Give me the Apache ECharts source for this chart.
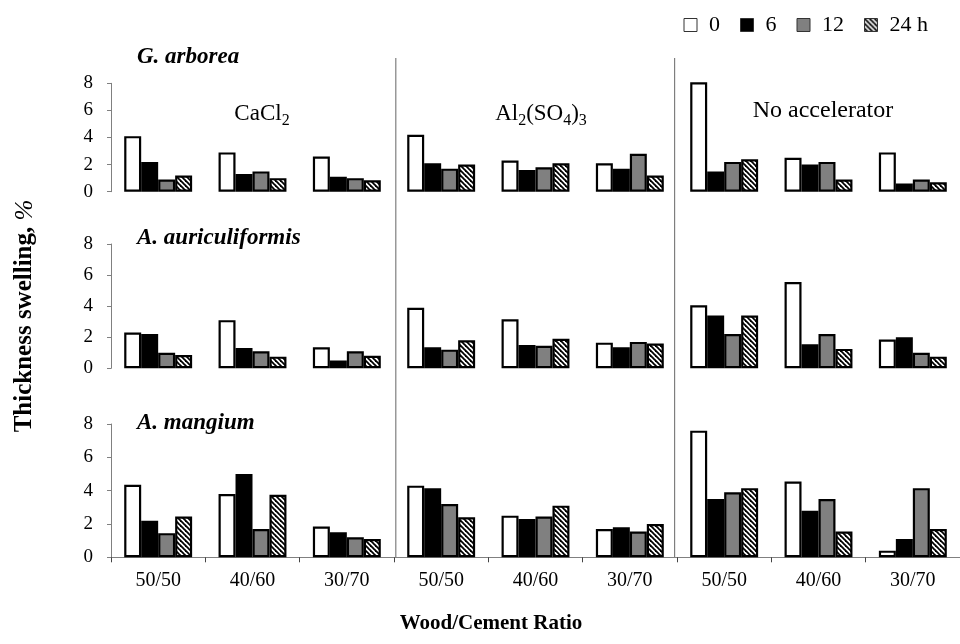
<!DOCTYPE html>
<html>
<head>
<meta charset="utf-8">
<script src="https://cdn.jsdelivr.net/npm/echarts@6/dist/echarts.min.js"></script>
<style>html,body{margin:0;padding:0;background:#fff}#c{width:960px;height:644px}</style>
</head>
<body>
<div id="c"></div>
<script>
// ---- data ----
const categories = ['50/50','40/60','30/70','50/50','40/60','30/70','50/50','40/60','30/70'];
const seriesNames = ['0','6','12','24 h'];
const yTicks = [0, 8, 2]; // min, max, interval

// G. arborea
const ga0  = [4.1, 2.9, 2.6, 4.2, 2.3, 2.1, 8.1, 2.5, 2.9];
const ga6  = [2.2, 1.3, 1.1, 2.1, 1.6, 1.7, 1.5, 2.0, 0.6];
const ga12 = [0.9, 1.5, 1.0, 1.7, 1.8, 2.8, 2.2, 2.2, 0.9];
const ga24 = [1.2, 1.0, 0.85, 2.0, 2.1, 1.2, 2.4, 0.9, 0.7];
// A. auriculiformis
const aa0  = [2.3, 3.1, 1.35, 3.9, 3.15, 1.65, 4.05, 5.55, 1.85];
const aa6  = [2.2, 1.3, 0.5, 1.35, 1.5, 1.35, 3.4, 1.55, 2.0];
const aa12 = [1.0, 1.1, 1.1, 1.2, 1.45, 1.7, 2.2, 2.2, 1.0];
const aa24 = [0.85, 0.75, 0.8, 1.8, 1.9, 1.6, 3.4, 1.25, 0.75];
// A. mangium
const am0  = [4.35, 3.8, 1.85, 4.3, 2.5, 1.7, 7.6, 4.55, 0.4];
const am6  = [2.2, 5.0, 1.5, 4.15, 2.3, 1.8, 3.5, 2.8, 1.1];
const am12 = [1.45, 1.7, 1.2, 3.2, 2.45, 1.55, 3.9, 3.5, 4.15];
const am24 = [2.45, 3.75, 1.1, 2.4, 3.1, 2.0, 4.15, 1.55, 1.7];

const panels = [
  {species: 'G. arborea', data: [ga0, ga6, ga12, ga24]},
  {species: 'A. auriculiformis', data: [aa0, aa6, aa12, aa24]},
  {species: 'A. mangium', data: [am0, am6, am12, am24]}
];

// ---- layout / style ----
const FONT = 'Liberation Serif';
const gridLeft = 111, gridWidth = 853;
const gridTops = [83.3, 244, 424];
const gridHeights = [108.4, 124.3, 133.3];
const axisGrey = '#808080';

function hatch() {
  const s = 5;
  const c = document.createElement('canvas');
  c.width = s; c.height = s;
  const g = c.getContext('2d');
  g.fillStyle = '#fff'; g.fillRect(0, 0, s, s);
  g.strokeStyle = '#000'; g.lineWidth = 1.8;
  for (const k of [-s, 0, s]) {
    g.beginPath(); g.moveTo(k - 1, -1); g.lineTo(k + s + 1, s + 1); g.stroke();
  }
  return {image: c, repeat: 'repeat'};
}
const fills = ['#ffffff', '#000000', '#808080', hatch()];

const grids = [], xAxes = [], yAxes = [], series = [];
panels.forEach((p, i) => {
  grids.push({left: gridLeft, width: gridWidth, top: gridTops[i], height: gridHeights[i]});
  const bottom = i === 2;
  xAxes.push({
    type: 'category', gridIndex: i, data: categories, show: bottom,
    axisLine: {show: bottom, lineStyle: {color: axisGrey, width: 1}},
    axisTick: {show: bottom, length: 5, interval: 0, lineStyle: {color: '#444'}},
    axisLabel: {show: bottom, interval: 0, color: '#000', fontSize: 20, fontFamily: FONT, margin: 13}
  });
  yAxes.push({
    type: 'value', gridIndex: i, min: yTicks[0], max: yTicks[1], interval: yTicks[2],
    splitLine: {show: false},
    axisLine: {show: true, lineStyle: {color: axisGrey, width: 1}},
    axisTick: {show: true, length: 4, lineStyle: {color: axisGrey}},
    axisLabel: {color: '#000', fontSize: 19, fontFamily: FONT, margin: 18}
  });
  p.data.forEach((arr, j) => {
    series.push({
      type: 'bar', name: seriesNames[j], xAxisIndex: i, yAxisIndex: i, data: arr,
      barGap: '0%', barCategoryGap: '28%',
      itemStyle: {color: fills[j], borderColor: '#000', borderWidth: 2.2},
      emphasis: {disabled: true}
    });
  });
});

const sepX1 = gridLeft + gridWidth * 3 / 9 + 0.5;
const sepX2 = gridLeft + gridWidth * 6 / 9 - 5;
const sepTop = 58, sepBottom = gridTops[2] + gridHeights[2];

const subRich = {
  m: {fontSize: 23, fontFamily: FONT, verticalAlign: 'top', lineHeight: 23},
  s: {fontSize: 16, fontFamily: FONT, verticalAlign: 'top', lineHeight: 16, padding: [11, 0, 0, 0]}
};
const speciesStyle = {fontSize: 23, fontWeight: 'bold', fontStyle: 'italic', fontFamily: FONT, fill: '#000'};

const graphics = [
  {type: 'line', shape: {x1: sepX1, y1: sepTop, x2: sepX1, y2: sepBottom}, style: {stroke: '#666', lineWidth: 1}, silent: true},
  {type: 'line', shape: {x1: sepX2, y1: sepTop, x2: sepX2, y2: sepBottom}, style: {stroke: '#666', lineWidth: 1}, silent: true},
  // accelerator labels
  {type: 'text', x: 262, y: 102, style: {text: '{m|CaCl}{s|2}', align: 'center', rich: subRich}},
  {type: 'text', x: 541, y: 102, style: {text: '{m|Al}{s|2}{m|(SO}{s|4}{m|)}{s|3}', align: 'center', rich: subRich}},
  {type: 'text', x: 823, y: 99, style: {text: 'No accelerator', align: 'center', fontSize: 24, fontFamily: FONT, fill: '#000'}},
  // species labels
  {type: 'text', x: 137, y: 46, style: Object.assign({text: panels[0].species}, speciesStyle)},
  {type: 'text', x: 137, y: 227, style: Object.assign({text: panels[1].species}, speciesStyle)},
  {type: 'text', x: 137, y: 412, style: Object.assign({text: panels[2].species}, speciesStyle)},
  // axis titles
  {type: 'text', x: 491, y: 624, style: {text: 'Wood/Cement Ratio', align: 'center', verticalAlign: 'middle', fontSize: 21, fontWeight: 'bold', fontFamily: FONT, fill: '#000'}},
  {type: 'text', x: 25, y: 316, rotation: Math.PI / 2, style: {text: '{b|Thickness swelling, }{i|%}', align: 'center', verticalAlign: 'middle',
    rich: {b: {fontSize: 25, fontWeight: 'bold', fontFamily: FONT}, i: {fontSize: 25, fontStyle: 'italic', fontFamily: FONT}}}}
];

const chart = echarts.init(document.getElementById('c'), null, {renderer: 'canvas'});
chart.setOption({
  animation: false,
  backgroundColor: '#fff',
  textStyle: {fontFamily: FONT, color: '#000'},
  legend: {
    data: seriesNames, right: 27, top: 9, itemWidth: 13, itemHeight: 13, itemGap: 20,
    icon: 'rect', selectedMode: false,
    itemStyle: {borderWidth: 1, borderColor: '#333'},
    textStyle: {fontSize: 22, fontFamily: FONT, color: '#000', padding: [0, 0, 0, 7]}
  },
  grid: grids, xAxis: xAxes, yAxis: yAxes, series: series,
  graphic: graphics
});
</script>
</body>
</html>
